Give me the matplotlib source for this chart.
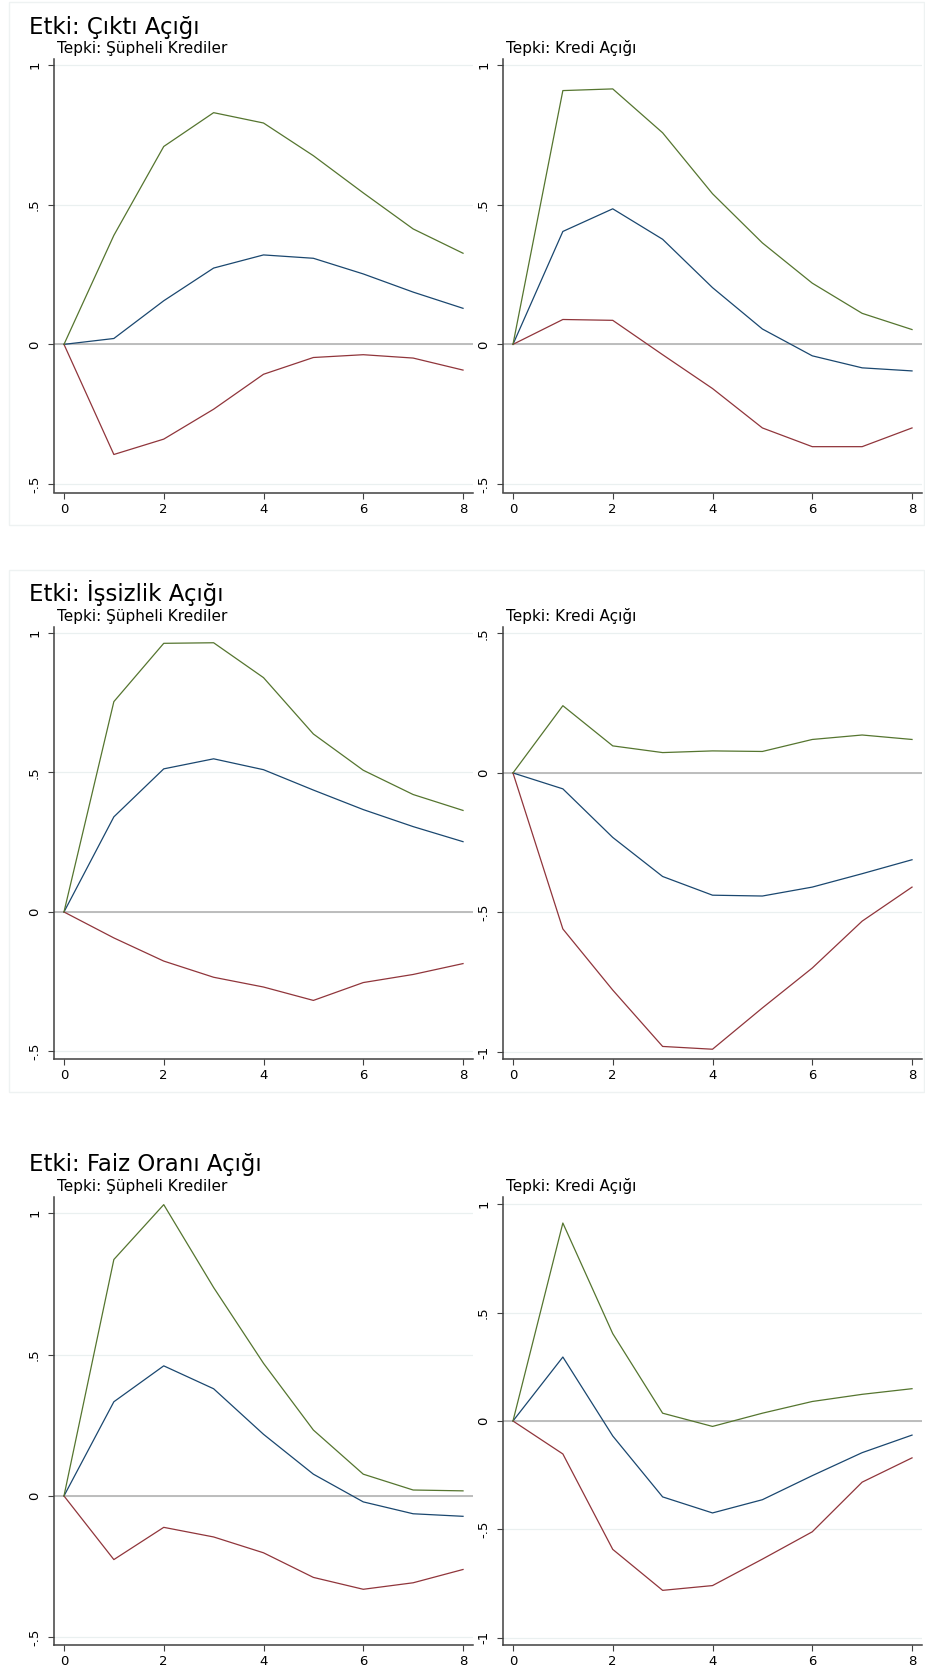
import matplotlib
matplotlib.use("Agg")
import matplotlib.pyplot as plt

# wide sans to match the stretched Stata lettering
plt.rcParams['font.family'] = ['DejaVu Sans']

W, H = 925, 1677

# horizon (steps)
steps = [0, 1, 2, 3, 4, 5, 6, 7, 8]

# Etki: Çıktı Açığı
out_npl_irf = [0, 0.021, 0.156, 0.273, 0.320, 0.308, 0.252, 0.187, 0.129]
out_npl_lo = [0, -0.394, -0.339, -0.232, -0.107, -0.047, -0.037, -0.049, -0.092]
out_npl_hi = [0, 0.390, 0.708, 0.829, 0.792, 0.675, 0.542, 0.413, 0.326]
out_cg_irf = [0, 0.404, 0.485, 0.376, 0.203, 0.055, -0.041, -0.084, -0.095]
out_cg_lo = [0, 0.089, 0.086, -0.037, -0.158, -0.299, -0.366, -0.366, -0.299]
out_cg_hi = [0, 0.908, 0.914, 0.757, 0.539, 0.363, 0.219, 0.111, 0.053]

# Etki: İşsizlik Açığı
une_npl_irf = [0, 0.341, 0.513, 0.549, 0.510, 0.437, 0.367, 0.306, 0.252]
une_npl_lo = [0, -0.093, -0.176, -0.234, -0.269, -0.317, -0.253, -0.224, -0.185]
une_npl_hi = [0, 0.754, 0.963, 0.965, 0.840, 0.638, 0.508, 0.421, 0.364]
une_cg_irf = [0, -0.057, -0.231, -0.371, -0.438, -0.441, -0.409, -0.361, -0.311]
une_cg_lo = [0, -0.559, -0.778, -0.980, -0.990, -0.842, -0.699, -0.531, -0.409]
une_cg_hi = [0, 0.241, 0.097, 0.073, 0.079, 0.077, 0.120, 0.136, 0.120]

# Etki: Faiz Oranı Açığı
int_npl_irf = [0, 0.333, 0.460, 0.379, 0.218, 0.077, -0.021, -0.063, -0.072]
int_npl_lo = [0, -0.225, -0.111, -0.145, -0.201, -0.288, -0.330, -0.307, -0.260]
int_npl_hi = [0, 0.836, 1.030, 0.737, 0.469, 0.233, 0.077, 0.021, 0.018]
int_cg_irf = [0, 0.295, -0.069, -0.350, -0.424, -0.363, -0.252, -0.146, -0.065]
int_cg_lo = [0, -0.152, -0.592, -0.781, -0.759, -0.637, -0.511, -0.282, -0.170]
int_cg_hi = [0, 0.913, 0.403, 0.036, -0.025, 0.036, 0.090, 0.123, 0.149]

row_titles = ["Etki: Çıktı Açığı", "Etki: İşsizlik Açığı", "Etki: Faiz Oranı Açığı"]
panel_titles = ["Tepki: Şüpheli Krediler", "Tepki: Kredi Açığı"]

C_IRF = '#1a476f'
C_LO = '#90353b'
C_HI = '#55752f'


def fmt(v):
    # Stata style labels: .5, -.5, 0, 1
    if v == int(v):
        return str(int(v))
    s = f"{v:g}"
    return s.replace("0.", ".")


def px_axes(fig, x0, y0, x1, y1):
    return fig.add_axes([x0 / W, 1 - y1 / H, (x1 - x0) / W, (y1 - y0) / H])


def draw_panel(ax, irf, lo, hi, ylim, yticks):
    ax.axhline(0, color='#b8b8b8', lw=1.3, zorder=1)
    ax.plot(steps, irf, color=C_IRF, lw=0.9, zorder=3)
    ax.plot(steps, lo, color=C_LO, lw=0.9, zorder=3)
    ax.plot(steps, hi, color=C_HI, lw=0.9, zorder=3)
    ax.set_xlim(-0.2, 8.2)
    ax.set_ylim(*ylim)
    ax.set_xticks([0, 2, 4, 6, 8])
    ax.set_yticks(yticks)
    ax.set_yticklabels([fmt(t) for t in yticks], rotation=90, va='center')
    ax.grid(axis='y', color='#eaf0f0', lw=0.9, zorder=0)
    ax.set_axisbelow(True)
    for s in ['top', 'right']:
        ax.spines[s].set_visible(False)
    for s in ['left', 'bottom']:
        ax.spines[s].set_color('#404040')
        ax.spines[s].set_linewidth(1.1)
    ax.tick_params(axis='both', length=4.3, width=0.8, color='#404040', labelsize=9.5)
    ax.tick_params(axis='y', pad=5)
    ax.tick_params(axis='x', pad=3)


fig = plt.figure(figsize=(W / 100, H / 100), dpi=100)

# light frames around the first two rows
for (t, b) in [(2, 525), (570, 1092)]:
    fig.patches.append(plt.Rectangle((9 / W, 1 - b / H), (924 - 9) / W, (b - t) / H,
                                     transform=fig.transFigure, fill=False,
                                     edgecolor='#eef2f2', lw=1.0))

rows = [
    dict(top=59, bottom=492.5, title_y=34, sub_y=53.5,
         left=(out_npl_irf, out_npl_lo, out_npl_hi, (-0.530, 1.021), [-0.5, 0, 0.5, 1]),
         right=(out_cg_irf, out_cg_lo, out_cg_hi, (-0.530, 1.021), [-0.5, 0, 0.5, 1])),
    dict(top=627, bottom=1059, title_y=601, sub_y=621,
         left=(une_npl_irf, une_npl_lo, une_npl_hi, (-0.527, 1.0215), [-0.5, 0, 0.5, 1]),
         right=(une_cg_irf, une_cg_lo, une_cg_hi, (-1.025, 0.523), [-1, -0.5, 0, 0.5])),
    dict(top=1197, bottom=1645, title_y=1171, sub_y=1191,
         left=(int_npl_irf, int_npl_lo, int_npl_hi, (-0.527, 1.057), [-0.5, 0, 0.5, 1]),
         right=(int_cg_irf, int_cg_lo, int_cg_hi, (-1.033, 1.033), [-1, -0.5, 0, 0.5, 1])),
]

for title, r in zip(row_titles, rows):
    axl = px_axes(fig, 54, r['top'], 473, r['bottom'])
    draw_panel(axl, *r['left'])
    axr = px_axes(fig, 503, r['top'], 922, r['bottom'])
    draw_panel(axr, *r['right'])

    fig.text(29 / W, 1 - r['title_y'] / H, title, fontsize=16.5, va='baseline', ha='left')
    fig.text(57 / W, 1 - r['sub_y'] / H, panel_titles[0], fontsize=11, va='baseline', ha='left')
    fig.text(506 / W, 1 - r['sub_y'] / H, panel_titles[1], fontsize=11, va='baseline', ha='left')

fig.savefig("out.png", dpi=100)
